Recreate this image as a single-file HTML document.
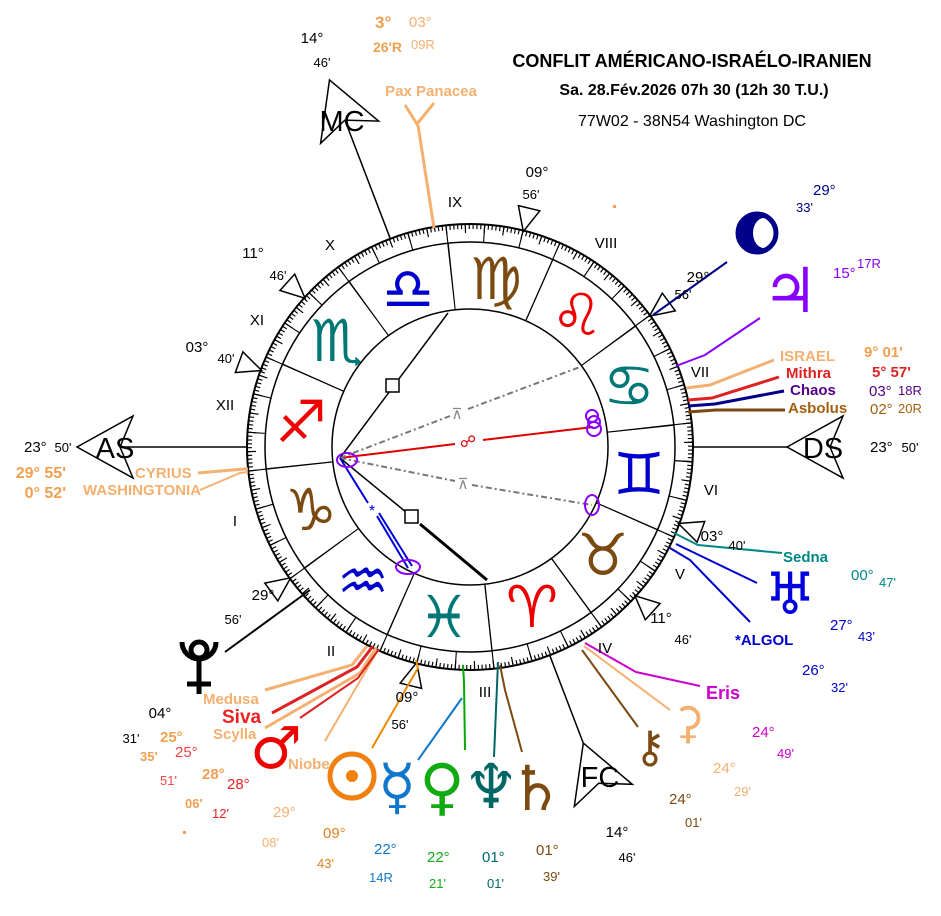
<!DOCTYPE html>
<html><head><meta charset="utf-8"><style>
html,body{margin:0;padding:0;background:#fff;}
svg{display:block;font-family:"Liberation Sans",Arial,sans-serif;}
.g{font-family:"DejaVu Sans","Liberation Sans",sans-serif;}
.b{font-weight:bold}
</style></head><body>
<svg width="941" height="916" viewBox="0 0 941 916" xmlns="http://www.w3.org/2000/svg">
<rect width="941" height="916" fill="#fff"/>
<g fill="none" stroke="#000">
<circle cx="470" cy="447" r="223" stroke-width="2"/>
<circle cx="470" cy="447" r="205" stroke-width="1.5"/>
<circle cx="470" cy="447" r="138" stroke-width="1.5"/>
<circle cx="470" cy="447" r="220.5" stroke-width="5" pathLength="360" stroke-dasharray="0.3 0.7" transform="rotate(3.683 470 447)"/>
<circle cx="470" cy="447" r="218.5" stroke-width="9" pathLength="360" stroke-dasharray="0.3 4.7" transform="rotate(3.683 470 447)"/>
<circle cx="470" cy="447" r="214" stroke-width="18" pathLength="360" stroke-dasharray="0.3 9.7" transform="rotate(3.683 470 447)"/>
<circle cx="470" cy="447" r="171.5" stroke-width="67" pathLength="360" stroke-dasharray="0.45 29.55" transform="rotate(23.6 470 447)"/>
</g>

<g fill="#fff" stroke="#000" stroke-width="1.5">
<polygon points="290.7,577.8 277.8,600.9 264.8,583.1"/>
<polygon points="416.7,662.5 421.6,688.4 400.2,683.2"/>
<polygon points="634.9,595.7 660.1,603.5 645.3,619.9"/>
<polygon points="678.4,523.5 704.7,521.5 697.1,542.1"/>
<polygon points="649.4,316.2 662.3,293.1 675.3,310.9"/>
<polygon points="523.3,231.5 518.4,205.6 539.8,210.8"/>
<polygon points="305.1,298.3 279.9,290.5 294.7,274.1"/>
<polygon points="261.6,370.5 235.3,372.5 242.9,351.9"/>
</g>
<g fill="none" stroke="#000" stroke-width="1.5">
<line x1="247" y1="447" x2="120" y2="447"/>
<polygon points="77,447 133,416 120,447 133,478"/>
<line x1="390.3" y1="238.7" x2="344.9" y2="120.1"/>
<polygon points="329.5,79.9 320.6,143.3 344.9,120.1 378.6,121.1"/>
<line x1="693" y1="447" x2="787" y2="447"/>
<polygon points="787,447 843,416 830,447 843,478"/>
<line x1="549.7" y1="655.3" x2="583.3" y2="743.1"/>
<polygon points="583.3,743.1 632.3,784.3 598.7,783.2 574.3,806.5"/>
</g>

<g fill="none">
<line x1="340" y1="458" x2="448" y2="313" stroke="#000" stroke-width="1.5"/>
<rect x="386" y="379" width="13" height="13" fill="#fff" stroke="#000" stroke-width="1.5"/>
<line x1="340" y1="458" x2="412" y2="517" stroke="#000" stroke-width="1.5"/>
<line x1="420" y1="524" x2="487" y2="580" stroke="#000" stroke-width="3"/>
<rect x="405" y="510" width="13" height="13" fill="#fff" stroke="#000" stroke-width="1.5"/>
<line x1="340" y1="458" x2="455" y2="444" stroke="#d00" stroke-width="2"/>
<line x1="483" y1="440" x2="593" y2="427" stroke="#d00" stroke-width="2"/>
<line x1="340" y1="458" x2="450" y2="416" stroke="#777" stroke-width="2" stroke-dasharray="6,3,2,3"/>
<line x1="468" y1="409" x2="580" y2="367" stroke="#777" stroke-width="2" stroke-dasharray="6,3,2,3"/>
<line x1="340" y1="458" x2="455" y2="481" stroke="#777" stroke-width="2" stroke-dasharray="6,3,2,3"/>
<line x1="472" y1="485" x2="592" y2="505" stroke="#777" stroke-width="2" stroke-dasharray="6,3,2,3"/>
<line x1="340" y1="458" x2="368" y2="503" stroke="#00d" stroke-width="2"/>
<line x1="377" y1="516" x2="408" y2="568" stroke="#00d" stroke-width="2"/>
<line x1="379" y1="513" x2="412" y2="566" stroke="#00d" stroke-width="2"/>
<ellipse cx="347" cy="460" rx="10" ry="7" stroke="#80f" stroke-width="2"/>
<ellipse cx="408" cy="567" rx="12" ry="7" stroke="#80f" stroke-width="2"/>
<circle cx="592" cy="416" r="6" stroke="#80f" stroke-width="2"/>
<circle cx="594" cy="422" r="6" stroke="#80f" stroke-width="2"/>
<circle cx="594" cy="429" r="7" stroke="#80f" stroke-width="2"/>
<ellipse cx="592" cy="505" rx="7" ry="10" stroke="#80f" stroke-width="2"/>
</g>
<text x="468" y="447" fill="#d00" font-size="16" text-anchor="middle" class="g">☍</text>
<text x="457" y="419" fill="#888" font-size="15" text-anchor="middle" class="g">⊼</text>
<text x="463" y="489" fill="#888" font-size="15" text-anchor="middle" class="g">⊼</text>
<text x="372" y="516" fill="#00d" font-size="16" text-anchor="middle">*</text>

<g fill="none" stroke-width="2">
<line x1="727" y1="262" x2="653" y2="315" stroke="#008"/>
<polyline points="760,318 705,355 676,366" stroke="#80f"/>
<polyline points="774,360 710,385 686,388" stroke="#f4b070" stroke-width="3"/>
<polyline points="779,377 712,398 688,400" stroke="#d22" stroke-width="3"/>
<polyline points="784,391 715,404 688,406" stroke="#008" stroke-width="3"/>
<polyline points="785,410 716,410 688,412" stroke="#7a4a10" stroke-width="3"/>
<polyline points="782,553 698,545 674,533" stroke="#088"/>
<line x1="757" y1="583" x2="676" y2="544" stroke="#00c"/>
<polyline points="750,622 690,560 670,548" stroke="#00c"/>
<polyline points="700,686 636,672 585,643" stroke="#c0c"/>
<line x1="670" y1="710" x2="584" y2="646" stroke="#f4b070"/>
<line x1="638" y1="727" x2="582" y2="650" stroke="#7a4a10"/>
<polyline points="465,750 464,682 463,665" stroke="#0a0"/>
<polyline points="418,760 462,698" stroke="#17c"/>
<polyline points="494,757 498,662" stroke="#066"/>
<polyline points="522,752 505,690 500,665" stroke="#7a4a10"/>
<polyline points="372,748 418,668 416,660" stroke="#e80"/>
<line x1="325" y1="741" x2="378" y2="650" stroke="#f4b070"/>
<polyline points="265,690 352,665 367,646" stroke="#f4b070" stroke-width="3"/>
<polyline points="272,713 357,667 373,646" stroke="#d22" stroke-width="3"/>
<polyline points="265,728 360,673 376,648" stroke="#f4b070" stroke-width="3"/>
<polyline points="300,718 358,678 379,649" stroke="#d22"/>
<line x1="225" y1="652" x2="310" y2="590" stroke="#000"/>
<polyline points="434,228 418,125" stroke="#f4b070" stroke-width="3"/>
<polyline points="405,105 417,124 434,103" stroke="#f4b070" stroke-width="3"/>
<polyline points="198,473 244,469 248,469" stroke="#f4b070" stroke-width="3"/>
<polyline points="200,490 240,473 248,472" stroke="#f4b070" stroke-width="2"/>
</g>

<g class="g" font-size="58" text-anchor="middle">
<text x="532" y="627" fill="#e00">♈&#xFE0E;</text>
<text x="603" y="575" fill="#7a4a10">♉&#xFE0E;</text>
<text x="639" y="494" fill="#00c">♊&#xFE0E;</text>
<text x="629" y="406" fill="#077">♋&#xFE0E;</text>
<text x="577" y="335" fill="#e00">♌&#xFE0E;</text>
<text x="496" y="299" fill="#7a4a10">♍&#xFE0E;</text>
<text x="408" y="309" fill="#00c">♎&#xFE0E;</text>
<text x="337" y="361" fill="#077">♏&#xFE0E;</text>
<text x="301" y="442" fill="#e00">♐&#xFE0E;</text>
<text x="311" y="530" fill="#7a4a10">♑&#xFE0E;</text>
<text x="363" y="601" fill="#00c">♒&#xFE0E;</text>
<text x="444" y="637" fill="#077">♓&#xFE0E;</text>
</g>

<g class="g" text-anchor="middle">
<circle cx="757" cy="233" r="17" fill="#008"/>
<ellipse cx="764" cy="233" rx="11" ry="15" fill="#fff"/>
<circle cx="757" cy="233" r="19" fill="none" stroke="#008" stroke-width="5"/>
<text x="790" y="312" fill="#80f" font-size="62">♃&#xFE0E;</text>
<text x="790" y="614" fill="#00d" font-size="58">♅&#xFE0E;</text>
<text x="688" y="738" fill="#f4b070" font-size="44">⚳&#xFE0E;</text>
<text x="650" y="762" fill="#7a4a10" font-size="44">⚷&#xFE0E;</text>
<text x="536" y="810" fill="#7a4a10" font-size="62">♄&#xFE0E;</text>
<text x="491" y="808" fill="#066" font-size="62">♆&#xFE0E;</text>
<text x="442" y="808" fill="#1a1" font-size="62">♀&#xFE0E;</text>
<text x="397" y="808" fill="#17c" font-size="62">☿&#xFE0E;</text>
<circle cx="352" cy="776" r="22" fill="none" stroke="#f08010" stroke-width="5"/>
<circle cx="352" cy="776" r="6" fill="#f08010"/>
<text x="276" y="768" fill="#e00" font-size="58">♂&#xFE0E;</text>
</g>
<g fill="none" stroke="#000" stroke-width="5">
<circle cx="199" cy="650" r="8"/>
<path d="M182,642 A17,17 0 0 0 216,642"/>
<line x1="199" y1="659" x2="199" y2="694"/>
<line x1="187" y1="684" x2="211" y2="684"/>
</g>

<text x="692" y="67" font-size="18" class="b" text-anchor="middle">CONFLIT AMÉRICANO-ISRAÉLO-IRANIEN</text>
<text x="694" y="95" font-size="16" class="b" text-anchor="middle">Sa. 28.Fév.2026 07h 30 (12h 30 T.U.)</text>
<text x="692" y="126" font-size="16" text-anchor="middle">77W02 - 38N54  Washington DC</text>

<g font-size="29" text-anchor="middle">
<text x="115" y="458">AS</text>
<text x="823" y="458">DS</text>
<text x="342" y="131">MC</text>
<text x="600" y="787">FC</text>
</g>

<g font-size="15" text-anchor="middle">
<text x="455" y="207">IX</text><text x="330" y="250">X</text><text x="257" y="325">XI</text>
<text x="225" y="410">XII</text><text x="235" y="526">I</text><text x="331" y="656">II</text>
<text x="485" y="697">III</text><text x="605" y="653">IV</text><text x="680" y="579">V</text>
<text x="711" y="495">VI</text><text x="700" y="377">VII</text><text x="606" y="248">VIII</text>
</g>

<g font-size="15" text-anchor="middle">
<text x="312" y="43">14°</text><text x="322" y="67" font-size="13">46'</text>
<text x="537" y="177">09°</text><text x="531" y="199" font-size="13">56'</text>
<text x="253" y="258">11°</text><text x="278" y="280" font-size="13">46'</text>
<text x="197" y="352">03°</text><text x="226" y="363" font-size="13">40'</text>
<text x="24" y="452" text-anchor="start">23°</text><text x="63" y="452" font-size="13">50'</text>
<text x="870" y="452" text-anchor="start">23°</text><text x="910" y="452" font-size="13">50'</text>
<text x="263" y="600">29°</text><text x="233" y="624" font-size="13">56'</text>
<text x="407" y="702">09°</text><text x="400" y="729" font-size="13">56'</text>
<text x="661" y="623">11°</text><text x="683" y="644" font-size="13">46'</text>
<text x="712" y="541">03°</text><text x="737" y="550" font-size="13">40'</text>
<text x="698" y="282">29°</text><text x="683" y="299" font-size="13">56'</text>
<text x="617" y="837">14°</text><text x="627" y="862" font-size="13">46'</text>
<text x="160" y="718">04°</text><text x="131" y="743" font-size="13">31'</text>
</g>

<g font-size="15">
<text x="813" y="195" fill="#008">29°</text><text x="796" y="212" fill="#008" font-size="13">33'</text>
<text x="833" y="278" fill="#80f">15°</text><text x="857" y="268" fill="#80f" font-size="13">17R</text>
<text x="869" y="396" fill="#508">03°</text><text x="898" y="395" fill="#508" font-size="13">18R</text>
<text x="870" y="414" fill="#a06010">02°</text><text x="898" y="413" fill="#a06010" font-size="13">20R</text>
<text x="851" y="580" fill="#088">00°</text><text x="879" y="587" fill="#088" font-size="13">47'</text>
<text x="830" y="630" fill="#00c">27°</text><text x="858" y="641" fill="#00c" font-size="13">43'</text>
<text x="802" y="675" fill="#00c">26°</text><text x="831" y="692" fill="#00c" font-size="13">32'</text>
<text x="752" y="737" fill="#c0c">24°</text><text x="777" y="758" fill="#c0c" font-size="13">49'</text>
<text x="713" y="773" fill="#f4b070">24°</text><text x="734" y="796" fill="#f4b070" font-size="13">29'</text>
<text x="669" y="804" fill="#7a4a10">24°</text><text x="685" y="827" fill="#7a4a10" font-size="13">01'</text>
<text x="536" y="855" fill="#7a4a10">01°</text><text x="543" y="881" fill="#7a4a10" font-size="13">39'</text>
<text x="482" y="862" fill="#066">01°</text><text x="487" y="888" fill="#066" font-size="13">01'</text>
<text x="427" y="862" fill="#1a1">22°</text><text x="429" y="888" fill="#1a1" font-size="13">21'</text>
<text x="374" y="854" fill="#17c">22°</text><text x="369" y="882" fill="#17c" font-size="13">14R</text>
<text x="323" y="838" fill="#e08020">09°</text><text x="317" y="868" fill="#e08020" font-size="13">43'</text>
<text x="273" y="817" fill="#f4b070">29°</text><text x="262" y="847" fill="#f4b070" font-size="13">08'</text>
<text x="227" y="789" fill="#e22">28°</text><text x="212" y="818" fill="#e22" font-size="13">12'</text>
<text x="202" y="779" fill="#f0a050" class="b">28°</text><text x="185" y="808" fill="#f0a050" class="b" font-size="13">06'</text>
<text x="175" y="757" fill="#e44">25°</text><text x="160" y="785" fill="#e44" font-size="13">51'</text>
<text x="160" y="742" fill="#f0a050" class="b">25°</text><text x="140" y="761" fill="#f0a050" class="b" font-size="13">35'</text>
<text x="409" y="27" fill="#f4b070">03°</text><text x="411" y="49" fill="#f4b070" font-size="13">09R</text>
<text x="375" y="28" fill="#f0a050" font-size="17" class="b">3°</text><text x="373" y="52" fill="#f0a050" font-size="14" class="b">26'R</text>
</g>
<rect x="183" y="831" width="3" height="3" fill="#f0a050"/>
<rect x="613" y="205" width="3" height="3" fill="#f0a050"/>

<g font-size="15" class="b">
<text x="431" y="96" fill="#f4b070" text-anchor="middle">Pax Panacea</text>
<text x="780" y="361" fill="#f4b070">ISRAEL</text>
<text x="864" y="357" fill="#f0a050">9° 01'</text>
<text x="786" y="378" fill="#d22">Mithra</text>
<text x="872" y="377" fill="#d22">5° 57'</text>
<text x="790" y="395" fill="#508">Chaos</text>
<text x="788" y="413" fill="#a06010">Asbolus</text>
<text x="783" y="562" fill="#088">Sedna</text>
<text x="735" y="645" fill="#00c">*ALGOL</text>
<text x="706" y="699" fill="#c0c" font-size="18">Eris</text>
<text x="203" y="704" fill="#f4b070">Medusa</text>
<text x="222" y="723" fill="#e22" font-size="19">Siva</text>
<text x="213" y="739" fill="#f4b070">Scylla</text>
<text x="288" y="769" fill="#f4b070">Niobe</text>
<text x="135" y="478" fill="#f4b070">CYRIUS</text>
<text x="83" y="495" fill="#f4b070">WASHINGTONIA</text>
<text x="66" y="478" fill="#f0a050" text-anchor="end" font-size="16">29°  55'</text>
<text x="66" y="498" fill="#f0a050" text-anchor="end" font-size="16">0°  52'</text>
</g>
</svg>
</body></html>
